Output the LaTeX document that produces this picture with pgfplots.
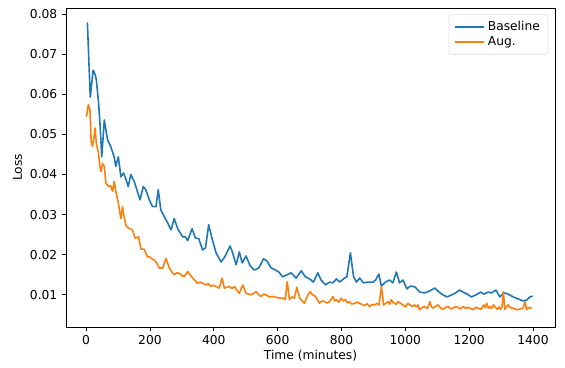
\documentclass[border=0pt]{standalone}
\usepackage{fontspec}
\setmainfont{DejaVu Sans}
\usepackage{pgfplots}
\pgfplotsset{compat=1.18}
\definecolor{mplblue}{HTML}{1F77B4}
\definecolor{mplorange}{HTML}{FF7F0E}

\begin{document}
\begin{tikzpicture}
\useasboundingbox (-49.5pt,-30.75pt) rectangle (374.25pt,245.25pt);
\begin{axis}[
  scale only axis, width=366.75pt, height=239.25pt,
  xmin=-63, xmax=1469, ymin=0.002, ymax=0.0815,
  xtick={0,200,...,1400},
  ytick={0.01,0.02,...,0.08},
  scaled y ticks=false,
  xticklabel style={/pgf/number format/1000 sep={}},
  yticklabel style={/pgf/number format/fixed, /pgf/number format/precision=2, /pgf/number format/fixed zerofill},
  /pgf/number format/assume math mode=true,
  tick align=outside, tick pos=left,
  major tick length=3pt,
  tick style={black, line width=0.6pt},
  axis line style={line width=0.6pt},
  ticklabel style={font=\fontsize{9.2}{11}\selectfont},
  label style={font=\fontsize{9.2}{11}\selectfont},
  xlabel={Time (minutes)}, ylabel={Loss},
  xlabel style={yshift=3pt}, ylabel style={yshift=-1pt},
  legend style={at={(0.986,0.98)}, anchor=north east, draw=black!15, rounded corners=2pt,
    font=\fontsize{9.2}{11}\selectfont, row sep=-1pt, inner xsep=4pt, inner ysep=3pt},
  legend cell align=left,
  legend image code/.code={\draw[#1] (0pt,0pt) -- (22pt,0pt);},
  every axis plot/.append style={line width=1.2pt, line join=round},
]
\addplot[mplblue] coordinates {
(4,0.0779) (13,0.0593) (22,0.0660) (28,0.0650) (32,0.0636) (39,0.0580) (44,0.0520) (49,0.0444)
(57,0.0536) (67,0.0487) (77,0.0470) (88,0.0444) (93,0.0420) (101,0.0444) (109,0.0394) (117,0.0404)
(124,0.0390) (132,0.0370) (140,0.0400) (151,0.0382) (161,0.0357) (169,0.0337) (179,0.0370) (187,0.0362)
(198,0.0337) (208,0.0320) (219,0.0320) (226,0.0362) (234,0.0312) (245,0.0295) (255,0.0280) (266,0.0262)
(276,0.0290) (287,0.0265) (302,0.0245) (311,0.0245) (318,0.0235) (332,0.0265) (342,0.0242) (353,0.0240)
(365,0.0212) (374,0.0217) (384,0.0275) (394,0.0242) (407,0.0205) (423,0.0182) (436,0.0197) (451,0.0222)
(459,0.0205) (470,0.0175) (480,0.0207) (489,0.0180) (501,0.0197) (514,0.0172) (527,0.0162) (541,0.0167)
(556,0.0190) (566,0.0185) (580,0.0167) (593,0.0162) (604,0.0157) (616,0.0145) (629,0.0150) (642,0.0155)
(658,0.0142) (674,0.0160) (687,0.0145) (700,0.0140) (712,0.0132) (726,0.0155) (736,0.0137) (750,0.0125)
(763,0.0132) (773,0.0130) (784,0.0140) (794,0.0132) (810,0.0142) (817,0.0145) (828,0.0205) (838,0.0145)
(847,0.0132) (857,0.0142) (869,0.0130) (883,0.0132) (899,0.0132) (907,0.0137) (917,0.0152) (925,0.0122)
(938,0.0132) (951,0.0137) (961,0.0130) (972,0.0157) (982,0.0130) (993,0.0137) (1005,0.0115) (1016,0.0122)
(1030,0.0120) (1045,0.0107) (1061,0.0105) (1077,0.0110) (1092,0.0117) (1106,0.0107) (1118,0.0100)
(1131,0.0095) (1145,0.0100) (1158,0.0105) (1169,0.0112) (1181,0.0107) (1194,0.0102) (1207,0.0095)
(1221,0.0100) (1236,0.0107) (1246,0.0102) (1260,0.0107) (1270,0.0105) (1284,0.0112) (1296,0.0095)
(1309,0.0105) (1322,0.0102) (1338,0.0095) (1354,0.0090) (1369,0.0085) (1380,0.0087) (1390,0.0095) (1399,0.0097)
};
\addlegendentry{Baseline}
\addplot[mplorange] coordinates {
(1,0.0544) (7,0.0574) (12,0.0561) (16,0.0482) (20,0.0470) (25,0.0495) (28,0.0516) (32,0.0478)
(39,0.0453) (43,0.0420) (47,0.0407) (51,0.0428) (57,0.0420) (62,0.0379) (70,0.0370) (77,0.0372)
(83,0.0358) (88,0.0383) (93,0.0358) (101,0.0329) (109,0.0290) (114,0.0320) (119,0.0295) (126,0.0270)
(135,0.0266) (145,0.0262) (154,0.0241) (164,0.0245) (172,0.0214) (182,0.0214) (192,0.0195) (198,0.0195)
(206,0.0190) (213,0.0187) (221,0.0180) (229,0.0167) (240,0.0167) (250,0.0191) (261,0.0167) (268,0.0158)
(276,0.0150) (284,0.0155) (292,0.0154) (300,0.0148) (308,0.0146) (318,0.0158) (326,0.0150) (334,0.0142)
(341,0.0136) (349,0.0129) (357,0.0132) (365,0.0129) (376,0.0125) (383,0.0128) (391,0.0121) (399,0.0124)
(407,0.0121) (417,0.0117) (426,0.0142) (433,0.0117) (441,0.0119) (449,0.0121) (457,0.0116) (465,0.0121)
(472,0.0112) (480,0.0104) (491,0.0125) (501,0.0104) (509,0.0102) (517,0.0100) (525,0.0104) (533,0.0108)
(541,0.0100) (548,0.0096) (556,0.0102) (564,0.0100) (574,0.0095) (585,0.0096) (595,0.0094) (606,0.0092)
(618,0.0092) (624,0.0088) (630,0.0133) (637,0.0088) (645,0.0095) (653,0.0092) (660,0.0119) (669,0.0092)
(677,0.0085) (684,0.0079) (695,0.0100) (702,0.0108) (710,0.0100) (719,0.0096) (725,0.0088) (731,0.0079)
(739,0.0085) (747,0.0083) (755,0.0080) (763,0.0083) (773,0.0096) (779,0.0085) (784,0.0088) (792,0.0082)
(799,0.0092) (806,0.0085) (813,0.0088) (819,0.0080) (825,0.0083) (833,0.0077) (841,0.0079) (849,0.0082)
(857,0.0079) (865,0.0076) (873,0.0073) (880,0.0078) (888,0.0071) (896,0.0076) (904,0.0075) (911,0.0079)
(918,0.0075) (925,0.0121) (932,0.0075) (939,0.0079) (946,0.0083) (951,0.0077) (956,0.0088) (962,0.0081)
(967,0.0079) (972,0.0076) (977,0.0083) (985,0.0079) (993,0.0075) (1000,0.0070) (1008,0.0079) (1016,0.0074)
(1024,0.0071) (1029,0.0075) (1035,0.0070) (1040,0.0075) (1045,0.0063) (1053,0.0069) (1061,0.0071)
(1069,0.0066) (1077,0.0083) (1082,0.0070) (1087,0.0067) (1095,0.0072) (1103,0.0075) (1110,0.0068)
(1118,0.0064) (1126,0.0069) (1134,0.0071) (1142,0.0065) (1150,0.0067) (1158,0.0071) (1165,0.0069)
(1173,0.0065) (1181,0.0071) (1189,0.0066) (1197,0.0069) (1205,0.0066) (1213,0.0063) (1220,0.0069)
(1228,0.0067) (1237,0.0064) (1246,0.0075) (1250,0.0068) (1255,0.0079) (1260,0.0067) (1265,0.0071)
(1270,0.0066) (1276,0.0075) (1282,0.0069) (1288,0.0064) (1293,0.0070) (1298,0.0064) (1303,0.0070)
(1307,0.0108) (1312,0.0064) (1317,0.0070) (1322,0.0075) (1330,0.0068) (1338,0.0067) (1346,0.0064)
(1354,0.0063) (1362,0.0066) (1369,0.0067) (1375,0.0083) (1380,0.0063) (1385,0.0068) (1390,0.0067) (1396,0.0069)
};
\addlegendentry{Aug.}
\end{axis}
\end{tikzpicture}
\end{document}
